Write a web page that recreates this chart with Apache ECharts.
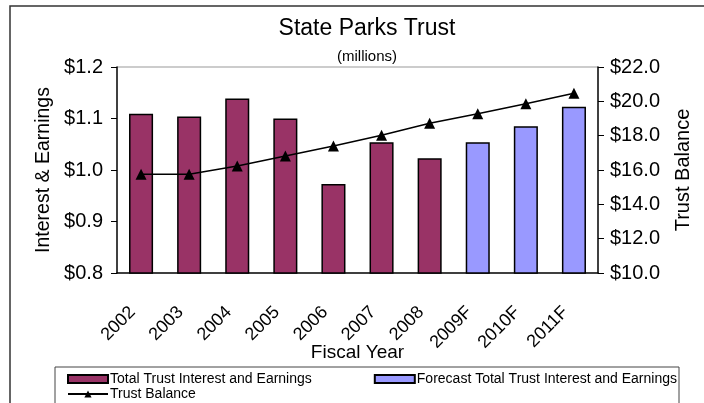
<!DOCTYPE html>
<html><head><meta charset="utf-8">
<script src="https://cdn.jsdelivr.net/npm/echarts@6/dist/echarts.min.js"></script>
<style>html,body{margin:0;padding:0;background:#fff}#c{width:704px;height:403px}</style>
</head><body><div id="c"></div>
<script>
var years = ['2002','2003','2004','2005','2006','2007','2008','2009F','2010F','2011F'];
var actualEarnings = [1.109, 1.104, 1.139, 1.100, 0.973, 1.054, 1.023, null, null, null];
var forecastEarnings = [null, null, null, null, null, null, null, 1.054, 1.085, 1.123];
var trustBalance = [15.75, 15.75, 16.23, 16.81, 17.40, 18.02, 18.72, 19.28, 19.86, 20.47];

var F = 'Liberation Sans, Arial, sans-serif';
var chart = echarts.init(document.getElementById('c'));
chart.setOption({
  animation: false,
  backgroundColor: '#fff',
  title: [
    {text: 'State Parks Trust', left: 362, textAlign: 'center', top: 12, textStyle: {fontFamily: F, fontSize: 23, fontWeight: 'normal', color: '#000'}},
    {text: '(millions)', left: 362, textAlign: 'center', top: 44, textStyle: {fontFamily: F, fontSize: 15, fontWeight: 'normal', color: '#000'}}
  ],
  graphic: [
    {type: 'polyline', shape: {points: [[10, 403], [10, 6], [704, 6]]}, style: {stroke: '#333', lineWidth: 1.5, fill: null}},
    {type: 'rect', shape: {x: 55, y: 367, width: 624, height: 40}, style: {stroke: '#444', lineWidth: 1, fill: '#fff'}, z: -1},
    {type: 'line', shape: {x1: 117, y1: 67, x2: 598, y2: 67}, style: {stroke: '#999', lineWidth: 1}}
  ],
  legend: [
    {data: ['Total Trust Interest and Earnings', 'Forecast Total Trust Interest and Earnings'], left: 62, top: 367, itemWidth: 40, itemHeight: 8, itemGap: 62,
     icon: 'rect', textStyle: {fontFamily: F, fontSize: 14, color: '#000', padding: [0, 0, 0, -3]}},
    {data: ['Trust Balance'], left: 62, top: 382, itemWidth: 40, itemHeight: 9,
     textStyle: {fontFamily: F, fontSize: 14, color: '#000', padding: [0, 0, 0, -3]}}
  ],
  grid: {left: 117, right: 106, top: 67, bottom: 130},
  xAxis: {
    type: 'category', data: years,
    name: 'Fiscal Year', nameLocation: 'middle', nameGap: 70, nameMoveOverlap: false,
    nameTextStyle: {fontFamily: F, fontSize: 19, color: '#000'},
    axisLine: {lineStyle: {color: '#000', width: 1.5}},
    axisTick: {lineStyle: {color: '#000'}, length: 5},
    axisLabel: {rotate: 45, fontFamily: F, fontSize: 18, color: '#000', margin: 28, padding: [0, 12, 16, 0]}
  },
  yAxis: [
    {type: 'value', min: 0.8, max: 1.2, interval: 0.1, position: 'left',
     name: 'Interest & Earnings', nameLocation: 'middle', nameRotate: 90, nameGap: 61,
     nameTextStyle: {fontFamily: F, fontSize: 19.5, color: '#000'},
     axisLine: {show: true, lineStyle: {color: '#000', width: 1.5}},
     axisTick: {show: true, length: 6, lineStyle: {color: '#000'}},
     splitLine: {show: false},
     axisLabel: {fontFamily: F, fontSize: 20, color: '#000', margin: 14, formatter: function (v) { return '$' + v.toFixed(1); }}},
    {type: 'value', min: 10, max: 22, interval: 2, position: 'right',
     name: 'Trust Balance', nameLocation: 'middle', nameRotate: 90, nameGap: 75,
     nameTextStyle: {fontFamily: F, fontSize: 20, color: '#000'},
     axisLine: {show: true, lineStyle: {color: '#000', width: 1.5}},
     axisTick: {show: true, length: 6, lineStyle: {color: '#000'}},
     splitLine: {show: false},
     axisLabel: {fontFamily: F, fontSize: 20, color: '#000', margin: 12, formatter: function (v) { return '$' + v.toFixed(1); }}}
  ],
  series: [
    {name: 'Total Trust Interest and Earnings', type: 'bar', data: actualEarnings, barWidth: '50%', barGap: '-100%',
     itemStyle: {color: '#993366', borderColor: '#000', borderWidth: 1.5}},
    {name: 'Forecast Total Trust Interest and Earnings', type: 'bar', data: forecastEarnings, barWidth: '50%', barGap: '-100%',
     itemStyle: {color: '#9999FF', borderColor: '#000', borderWidth: 1.5}},
    {name: 'Trust Balance', type: 'line', yAxisIndex: 1, data: trustBalance, symbol: 'triangle', symbolSize: 11,
     lineStyle: {color: '#000', width: 1.5}, itemStyle: {color: '#000'}}
  ]
});
</script></body></html>
